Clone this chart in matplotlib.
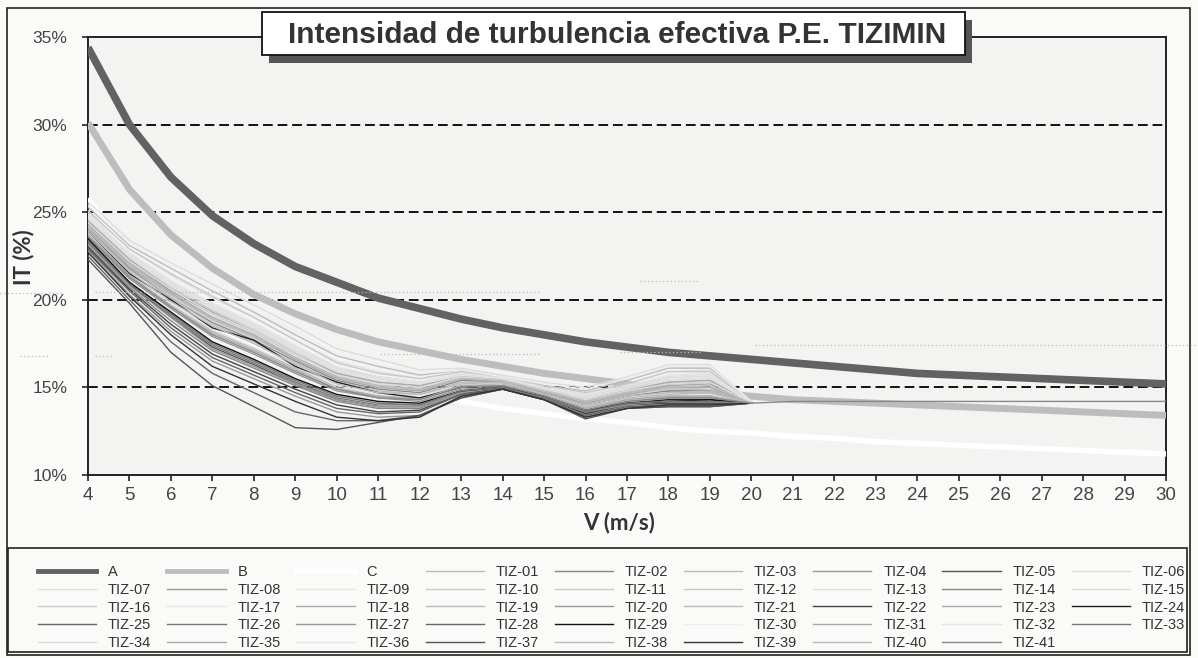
import matplotlib
matplotlib.use("Agg")
import matplotlib.pyplot as plt
from matplotlib.patches import Rectangle
from matplotlib.lines import Line2D

plt.rcParams['font.family'] = ['Liberation Sans', 'DejaVu Sans']

W, H = 1198, 658

# velocidades (m/s)
v_ref = list(range(4, 31))
v_tiz = list(range(4, 21))

# curvas de referencia (IT en %)
it_a = [34.4, 30.0, 27.0, 24.8, 23.2, 21.9, 21.0, 20.1, 19.5, 18.9, 18.4, 18.0, 17.6,
        17.3, 17.0, 16.8, 16.6, 16.4, 16.2, 16.0, 15.8, 15.7, 15.6, 15.5, 15.4, 15.3, 15.2]
it_b = [30.1, 26.3, 23.7, 21.8, 20.3, 19.2, 18.3, 17.6, 17.1, 16.6, 16.2, 15.8, 15.5,
        15.2, 14.9, 14.7, 14.5, 14.3, 14.2, 14.1, 14.0, 13.9, 13.8, 13.7, 13.6, 13.5, 13.4]
it_c = [25.8, 22.4, 20.2, 18.6, 17.4, 16.5, 15.7, 15.1, 14.6, 14.2, 13.8, 13.5, 13.2,
        13.0, 12.7, 12.5, 12.4, 12.2, 12.1, 11.9, 11.8, 11.7, 11.6, 11.5, 11.4, 11.3, 11.2]

tiz_names = ["TIZ-%02d" % i for i in range(1, 42)]

tiz_grays = ["#bbbbbb", "#888888", "#bbbbbb", "#999999", "#555555", "#dddddd",
             "#e0e0e0", "#999999", "#e5e5e5", "#cccccc", "#cccccc", "#c8c8c8",
             "#e0e0e0", "#888888", "#dddddd", "#cccccc", "#e5e5e5", "#aaaaaa",
             "#bbbbbb", "#999999", "#bbbbbb", "#444444", "#aaaaaa", "#222222",
             "#666666", "#777777", "#999999", "#666666", "#111111", "#eeeeee",
             "#aaaaaa", "#e5e5e5", "#777777", "#dddddd", "#aaaaaa", "#e5e5e5",
             "#555555", "#bbbbbb", "#333333", "#bbbbbb", "#888888"]

# IT efectiva por aerogenerador, 4..20 m/s
tiz_it = [
    [25.3, 23.1, 21.8, 20.5, 19.3, 18.0, 16.8, 16.2, 15.7, 16.0, 15.6, 15.1, 14.8, 15.4, 16.1, 16.1, 14.2],
    [24.0, 21.8, 20.1, 18.7, 17.7, 16.5, 15.4, 14.9, 14.7, 15.4, 15.3, 14.7, 14.0, 14.5, 14.8, 14.8, 14.1],
    [24.8, 22.6, 21.0, 19.7, 18.6, 17.3, 16.1, 15.6, 15.3, 15.8, 15.5, 14.9, 14.5, 15.0, 15.6, 15.7, 14.2],
    [23.6, 21.2, 19.5, 17.9, 16.9, 15.8, 14.8, 14.4, 14.2, 14.9, 15.0, 14.5, 13.7, 14.2, 14.4, 14.4, 14.1],
    [23.3, 20.9, 19.0, 17.3, 16.3, 15.2, 14.3, 13.9, 13.9, 14.7, 15.0, 14.4, 13.6, 14.0, 14.2, 14.2, 14.1],
    [25.6, 23.4, 22.1, 20.9, 19.7, 18.5, 17.2, 16.6, 16.0, 16.1, 15.7, 15.3, 15.0, 15.6, 16.3, 16.3, 14.2],
    [25.0, 22.9, 21.4, 20.1, 19.0, 17.7, 16.5, 15.9, 15.5, 15.9, 15.6, 15.0, 14.6, 15.2, 15.9, 16.0, 14.2],
    [24.4, 22.2, 20.5, 19.2, 18.1, 16.9, 15.7, 15.2, 15.0, 15.6, 15.4, 14.8, 14.3, 14.8, 15.2, 15.3, 14.1],
    [24.9, 22.7, 21.1, 19.8, 18.7, 17.4, 16.2, 15.6, 15.3, 15.8, 15.5, 15.0, 14.6, 15.1, 15.7, 15.8, 14.2],
    [24.7, 22.5, 20.9, 19.6, 18.5, 17.2, 16.0, 15.5, 15.2, 15.7, 15.5, 14.9, 14.5, 15.0, 15.5, 15.6, 14.1],
    [24.5, 22.3, 20.7, 19.4, 18.3, 17.0, 15.8, 15.3, 15.1, 15.7, 15.5, 14.9, 14.4, 14.9, 15.3, 15.4, 14.1],
    [25.1, 22.9, 21.5, 20.2, 19.0, 17.7, 16.4, 15.8, 15.5, 15.9, 15.6, 15.1, 14.7, 15.2, 15.9, 15.9, 14.2],
    [24.2, 22.0, 20.4, 19.1, 18.1, 16.8, 15.7, 15.2, 15.0, 15.6, 15.4, 14.8, 14.2, 14.7, 15.0, 15.1, 14.1],
    [23.1, 20.7, 18.8, 17.1, 16.1, 15.1, 14.2, 13.8, 13.8, 14.7, 15.0, 14.4, 13.5, 14.0, 14.1, 14.1, 14.1],
    [24.6, 22.4, 20.8, 19.5, 18.4, 17.1, 15.9, 15.4, 15.2, 15.7, 15.5, 14.9, 14.4, 14.9, 15.4, 15.5, 14.1],
    [24.1, 21.9, 20.2, 18.8, 17.8, 16.6, 15.5, 15.0, 14.8, 15.5, 15.4, 14.8, 14.1, 14.6, 14.9, 15.0, 14.1],
    [23.8, 21.5, 19.8, 18.3, 17.3, 16.2, 15.1, 14.6, 14.5, 15.2, 15.2, 14.6, 13.9, 14.4, 14.6, 14.6, 14.1],
    [24.3, 22.1, 20.4, 19.0, 18.0, 16.7, 15.6, 15.1, 14.9, 15.5, 15.4, 14.8, 14.2, 14.7, 15.1, 15.2, 14.1],
    [23.7, 21.4, 19.7, 18.2, 17.2, 16.1, 15.0, 14.5, 14.4, 15.1, 15.2, 14.6, 13.8, 14.3, 14.5, 14.5, 14.1],
    [22.8, 20.3, 18.2, 16.5, 15.5, 14.5, 13.6, 13.3, 13.4, 14.5, 14.9, 14.3, 13.4, 13.9, 14.0, 14.0, 14.1],
    [24.0, 21.7, 20.1, 18.6, 17.6, 16.4, 15.3, 14.8, 14.6, 15.3, 15.3, 14.7, 14.0, 14.5, 14.7, 14.8, 14.1],
    [23.0, 20.6, 18.6, 16.9, 15.9, 14.9, 14.0, 13.6, 13.7, 14.6, 15.0, 14.4, 13.5, 14.0, 14.1, 14.1, 14.1],
    [24.5, 22.3, 20.6, 19.3, 18.2, 16.9, 15.8, 15.3, 15.1, 15.6, 15.5, 14.9, 14.3, 14.8, 15.3, 15.4, 14.1],
    [23.9, 21.5, 20.0, 18.4, 17.7, 16.2, 15.3, 14.7, 14.4, 15.0, 15.1, 14.5, 13.6, 14.1, 14.3, 14.3, 14.1],
    [22.5, 20.0, 17.6, 15.8, 14.7, 13.6, 13.1, 13.1, 13.4, 14.4, 14.9, 14.3, 13.3, 13.8, 13.9, 13.9, 14.1],
    [23.4, 21.0, 19.2, 17.5, 16.5, 15.4, 14.5, 14.1, 14.0, 14.8, 15.0, 14.5, 13.6, 14.1, 14.2, 14.2, 14.1],
    [23.2, 20.8, 19.0, 17.2, 16.2, 15.2, 14.3, 13.9, 13.9, 14.7, 15.0, 14.4, 13.6, 14.0, 14.2, 14.2, 14.1],
    [22.9, 20.5, 18.4, 16.7, 15.7, 14.7, 13.8, 13.5, 13.6, 14.6, 14.9, 14.3, 13.4, 13.9, 14.0, 14.0, 14.1],
    [23.5, 21.0, 19.3, 17.6, 16.6, 15.5, 14.6, 14.2, 14.1, 14.8, 15.0, 14.5, 13.7, 14.1, 14.2, 14.3, 14.1],
    [25.4, 23.2, 21.9, 20.6, 19.4, 18.2, 16.9, 16.3, 15.8, 16.0, 15.6, 15.2, 14.9, 15.5, 16.2, 16.2, 14.2],
    [24.1, 21.9, 20.3, 18.9, 17.9, 16.6, 15.5, 15.0, 14.8, 15.5, 15.3, 14.7, 14.1, 14.6, 15.0, 15.0, 14.1],
    [24.8, 22.6, 21.0, 19.7, 18.6, 17.3, 16.1, 15.5, 15.3, 15.8, 15.5, 15.0, 14.5, 15.1, 15.6, 15.7, 14.2],
    [23.3, 20.9, 19.1, 17.4, 16.4, 15.3, 14.4, 14.0, 14.0, 14.8, 15.0, 14.4, 13.6, 14.1, 14.2, 14.2, 14.1],
    [24.4, 22.2, 20.6, 19.2, 18.2, 16.9, 15.7, 15.2, 15.0, 15.6, 15.4, 14.8, 14.3, 14.8, 15.2, 15.3, 14.1],
    [23.7, 21.4, 19.6, 18.1, 17.1, 16.0, 14.9, 14.5, 14.3, 15.1, 15.1, 14.6, 13.8, 14.3, 14.5, 14.5, 14.1],
    [24.7, 22.5, 20.9, 19.6, 18.5, 17.2, 16.0, 15.4, 15.2, 15.7, 15.5, 14.9, 14.4, 15.0, 15.5, 15.6, 14.1],
    [22.3, 19.8, 17.0, 15.1, 13.9, 12.7, 12.6, 13.0, 13.4, 14.4, 14.9, 14.3, 13.2, 13.8, 13.9, 13.9, 14.1],
    [24.2, 22.0, 20.3, 18.9, 17.9, 16.7, 15.6, 15.1, 14.9, 15.5, 15.4, 14.8, 14.2, 14.7, 15.0, 15.1, 14.1],
    [22.7, 20.2, 18.0, 16.2, 15.2, 14.2, 13.3, 13.1, 13.3, 14.5, 14.9, 14.3, 13.3, 13.8, 14.0, 14.0, 14.1],
    [23.9, 21.6, 19.9, 18.5, 17.5, 16.3, 15.2, 14.7, 14.6, 15.2, 15.3, 14.6, 13.9, 14.4, 14.6, 14.7, 14.1],
    [23.6, 21.3, 19.6, 18.0, 17.0, 15.9, 14.9, 14.4, 14.3, 15.0, 15.1, 14.5, 13.7, 14.2, 14.4, 14.4, 14.1],
]
# TIZ-41 sigue constante hasta 30 m/s
tiz41_cola = [14.2, 14.2, 14.2, 14.2, 14.2, 14.2, 14.2, 14.2, 14.2, 14.2]

y_ticks = [10, 15, 20, 25, 30, 35]


def fx(px):
    return px / W


def fy(py):
    return 1 - py / H


fig = plt.figure(figsize=(W / 100, H / 100), dpi=100, facecolor='#fafaf8')
ax = fig.add_axes([fx(88), fy(475), fx(1166) - fx(88), fy(37) - fy(475)])
ax.set_facecolor('#f3f3f1')

# rejilla discontinua
for yv in y_ticks[1:-1]:
    ax.axhline(yv, color='#111111', lw=1.4, ls=(0, (5, 2.5)), zorder=1)

handles = []
h_a, = ax.plot(v_ref, it_a, color='#626262', lw=5.5, solid_capstyle='butt', zorder=3, label='A')
h_b, = ax.plot(v_ref, it_b, color='#bdbdbd', lw=5, solid_capstyle='butt', zorder=3, label='B')
h_c, = ax.plot(v_ref, it_c, color='#ffffff', lw=4, solid_capstyle='butt', zorder=3, label='C')
handles += [h_a, h_b, h_c]

for nombre, gris, vals in zip(tiz_names, tiz_grays, tiz_it):
    xs = list(v_tiz)
    ys = list(vals)
    if nombre == 'TIZ-41':
        xs += v_ref[len(v_tiz):]
        ys += tiz41_cola
    h, = ax.plot(xs, ys, color=gris, lw=1.0, zorder=4, label=nombre)
    handles.append(h)

ax.set_xlim(4, 30)
ax.set_ylim(10, 35)
ax.set_xticks(v_ref)
ax.set_yticks(y_ticks)
ax.set_yticklabels(['%d%%' % t for t in y_ticks])
ax.tick_params(axis='both', direction='out', length=4, width=1.2, colors='#222222',
               labelcolor='#444444')
ax.tick_params(axis='x', labelsize=13.5, pad=5)
ax.tick_params(axis='y', labelsize=12.5, pad=11)
for s in ax.spines.values():
    s.set_color('#222222')
    s.set_linewidth(1.4)

# líneas punteadas tenues del escaneo
for x0, x1, yp in [(0, 62, 293), (95, 540, 292), (640, 700, 281), (20, 50, 356),
                   (95, 112, 356), (380, 540, 354), (620, 700, 352), (755, 1198, 345)]:
    fig.add_artist(Line2D([fx(x0), fx(x1)], [fy(yp), fy(yp)], transform=fig.transFigure,
                          color='#b8b8b8', lw=0.9, ls=(0, (1, 2)), zorder=2))

fig.text(fx(619), fy(523), 'V (m/s)', ha='center', va='center', fontsize=16,
         family=['Lato', 'DejaVu Sans'], fontweight='bold', color='#333333')
fig.text(fx(24), fy(257), 'IT (%)', ha='center', va='center', fontsize=16, rotation=90,
         family=['Lato', 'DejaVu Sans'], fontweight='bold', color='#333333')

# marco exterior
fig.add_artist(Rectangle((fx(7), fy(655)), fx(1190) - fx(7), fy(8) - fy(655),
                         transform=fig.transFigure, fill=False, ec='#222222', lw=1.2))

# titulo con sombra
fig.add_artist(Rectangle((fx(269), fy(63)), fx(965) - fx(262), fy(12) - fy(55),
                         transform=fig.transFigure, fc='#555555', ec='none', zorder=5))
fig.add_artist(Rectangle((fx(262), fy(55)), fx(965) - fx(262), fy(12) - fy(55),
                         transform=fig.transFigure, fc='white', ec='#111111', lw=1.3, zorder=6))
fig.text(fx(617), fy(35), 'Intensidad de turbulencia efectiva P.E. TIZIMIN', ha='center',
         va='center', fontsize=21.5, fontweight='bold', color='#333333', zorder=7)

# leyenda en filas de 9
ncol = 9
orden = []
for c in range(ncol):
    for r in range(5):
        k = r * ncol + c
        if k < len(handles):
            orden.append(handles[k])

proxies = []
for h in orden:
    proxies.append(Line2D([], [], color=h.get_color(),
                          lw=min(h.get_linewidth(), 3.5), label=h.get_label()))

fig.add_artist(Rectangle((fx(8), fy(652)), fx(1187) - fx(8), fy(548) - fy(652),
                         transform=fig.transFigure, fc='#fafaf8', ec='#222222', lw=1.2, zorder=1))
leg = fig.legend(handles=proxies, ncol=ncol, loc='lower left',
                 bbox_to_anchor=(fx(25), fy(663), fx(1198) - fx(25), fy(548) - fy(663)),
                 mode='expand', fontsize=10.5, handlelength=4.0, handletextpad=0.8,
                 labelspacing=0.25, borderpad=0.4, columnspacing=1.0, frameon=False)
leg.set_zorder(2)
for t in leg.get_texts():
    t.set_color('#333333')

fig.savefig('out.png', dpi=100, facecolor=fig.get_facecolor())
